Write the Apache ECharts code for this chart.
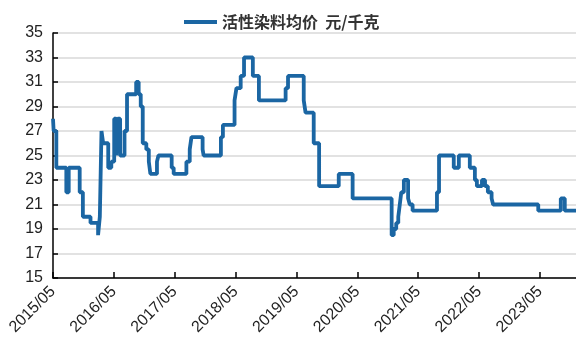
<!DOCTYPE html>
<html><head><meta charset="utf-8">
<script src="https://cdn.jsdelivr.net/npm/echarts@6/dist/echarts.min.js"></script>
<style>html,body{margin:0;padding:0;background:#fff}#c{width:576px;height:347px}</style>
</head><body><div id="c"></div>
<script>
const seriesName = '活性染料均价  元/千克';
const startDate = '2015-05-01';
const endDate = '2023-12-04';
const tickLabels = ['2015/05','2016/05','2017/05','2018/05','2019/05','2020/05','2021/05','2022/05','2023/05'];
const dates = [
 '2015-05-01','2015-05-05','2015-05-21','2015-07-20','2015-08-04','2015-10-09','2015-10-28','2015-12-13',
 '2016-01-28','2016-02-08','2016-02-18','2016-02-28','2016-03-28','2016-04-16','2016-05-03','2016-05-15',
 '2016-05-24','2016-06-08','2016-07-04','2016-07-19','2016-09-13','2016-09-28','2016-10-10','2016-10-22',
 '2016-11-13','2016-11-28','2016-12-07','2017-01-16','2017-01-25','2017-04-13','2017-04-25','2017-07-10',
 '2017-07-30','2017-08-10','2017-10-16','2017-10-22','2018-02-04','2018-02-16','2018-04-25','2018-05-06',
 '2018-06-01','2018-06-21','2018-08-13','2018-09-19','2019-02-27','2019-03-11','2019-06-14','2019-06-25',
 '2019-08-13','2019-09-15','2020-01-11','2020-04-03','2020-11-24','2020-12-06','2020-12-21','2021-01-03',
 '2021-01-12','2021-01-21','2021-02-06','2021-03-01','2021-03-11','2021-03-28','2021-08-22','2021-09-04',
 '2021-12-01','2022-01-01','2022-03-06','2022-04-06','2022-04-18','2022-05-18','2022-06-06','2022-06-23',
 '2022-07-15','2022-07-24','2023-04-21','2023-09-04','2023-09-28','2023-12-04'
];
const prices = [
 28,27,24,22,24,22,20,19.5,
 18.5,20,27,26,24,24.5,28,25,
 28,25,27,30,31,30,29,26,
 25.5,24.5,23.5,24.5,25,24,23.5,24.5,
 25.5,26.5,25.5,25,26.5,27.5,29.5,30.5,
 31.5,33,31.5,29.5,30.5,31.5,29.5,28.5,
 26,22.5,23.5,21.5,18.5,19,19.5,20,
 21,22,23,21.5,21,20.5,22,25,
 24,25,24,23,22.5,23,22.5,22,
 21.5,21,20.5,21.5,20.5,20.5
];

function monthsSince(d){
  const [y,m,da]=d.split('-').map(Number);
  return (y-2015)*12+(m-5)+(da-1)/30.4;
}
const data = dates.map((d,i)=>[monthsSince(d), prices[i]]);
const tickVals = tickLabels.map((t,i)=>i*12);

const chart = echarts.init(document.getElementById('c'));
chart.setOption({
  animation:false,
  grid:{left:53,right:0,top:33,bottom:69},
  legend:{
    data:[seriesName], left:179, top:9,
    icon:'rect', itemWidth:33, itemHeight:4, itemGap:6,
    textStyle:{fontFamily:'Noto Sans CJK SC', fontSize:16, fontWeight:'bold', color:'#333'}
  },
  xAxis:{
    type:'value', min:0, max:monthsSince(endDate), interval:12,
    axisLine:{lineStyle:{color:'#000',width:1.5}},
    axisTick:{inside:true,length:6,lineStyle:{color:'#000',width:1.5},customValues:tickVals},
    axisLabel:{rotate:45, margin:11, fontFamily:'Liberation Sans', fontSize:16, color:'#222',
      customValues:tickVals,
      formatter:v=>{const i=Math.round(v/12);return tickLabels[i]||'';}},
    splitLine:{show:false}
  },
  yAxis:{
    type:'value', min:15, max:35, interval:2,
    axisLine:{show:true,lineStyle:{color:'#000',width:1.5}},
    axisTick:{show:true,inside:true,length:5,lineStyle:{color:'#000',width:1.5}},
    axisLabel:{margin:10, fontFamily:'Liberation Sans', fontSize:16, color:'#222'},
    splitLine:{lineStyle:{color:'#d9d9d9',width:1.5}}
  },
  series:[{
    name:seriesName, type:'line', step:'end', data:data,
    showSymbol:false, symbol:'none',
    lineStyle:{color:'#1b66a3',width:3.8},
    itemStyle:{color:'#1b66a3'}
  }]
});
</script></body></html>
